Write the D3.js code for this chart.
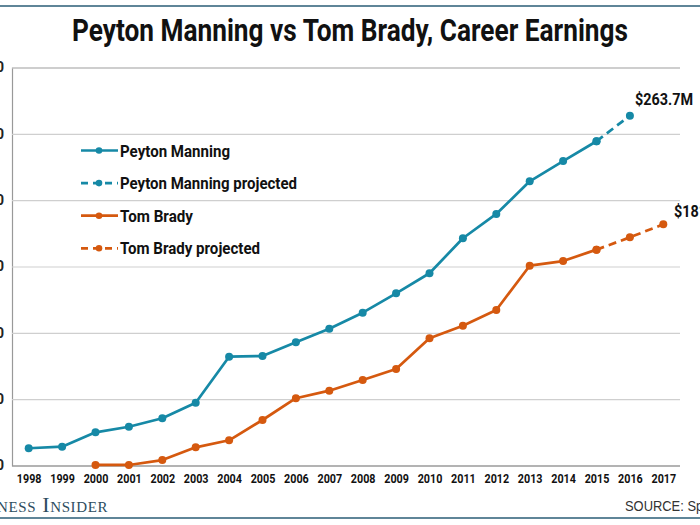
<!DOCTYPE html>
<html><head><meta charset="utf-8">
<script src="https://cdn.jsdelivr.net/npm/d3@7"></script>
<style>
body{margin:0;background:#fff;}
svg{display:block;}
.cond{font-family:"Roboto","Liberation Sans",sans-serif;}
</style></head>
<body><svg id="chart" width="700" height="525"></svg>
<script>
const years = d3.range(1998, 2018);
const yTicks = [0, 50, 100, 150, 200, 250, 300];
const yTickLabels = ["$0", "$50", "$100", "$150", "$200", "$250", "$300"];
const manningYears = [1998,1999,2000,2001,2002,2003,2004,2005,2006,2007,2008,2009,2010,2011,2012,2013,2014,2015];
const manningValues = [13.0,14.2,25.0,29.2,35.6,47.3,82.0,82.5,92.9,103.1,115.2,129.8,144.9,171.3,189.6,214.2,229.5,244.4];
const manningProjYears = [2015, 2016];
const manningProjValues = [244.4, 263.7];
const bradyYears = [2000,2001,2002,2003,2004,2005,2006,2007,2008,2009,2010,2011,2012,2013,2014,2015];
const bradyValues = [0.4,0.4,4.1,13.7,19.0,34.3,50.7,56.4,64.4,72.7,95.9,105.3,117.2,150.6,154.1,162.7];
const bradyProjYears = [2015, 2016, 2017];
const bradyProjValues = [162.7, 172.0, 181.8];
const seriesNames = ["Peyton Manning", "Peyton Manning projected", "Tom Brady", "Tom Brady projected"];
const endLabels = ["$263.7M", "$181.8M"];
const colors = {manning: "#1689a6", brady: "#d5590f"};

const svg = d3.select("#chart");
const pLeft = 12, pRight = 680, pTop = 67.5, pBottom = 465.5;
const x = d3.scalePoint().domain(years).range([pLeft, pRight]).padding(0.5);
const y = d3.scaleLinear().domain([0, 300]).range([pBottom, pTop]);

function condense(sel, k){
  sel.each(function(){
    const w = this.getComputedTextLength();
    d3.select(this).attr("textLength", w*k).attr("lengthAdjust","spacingAndGlyphs");
  });
}

// top & bottom rules
svg.append("rect").attr("x",0).attr("y",5).attr("width",700).attr("height",2).attr("fill","#5f8598");
svg.append("rect").attr("x",0).attr("y",517).attr("width",700).attr("height",2).attr("fill","#5f8598");

// title
svg.append("text").attr("class","cond").attr("x",350).attr("y",41).attr("text-anchor","middle")
  .attr("font-size",31).attr("font-weight","bold").attr("fill","#111")
  .attr("textLength",556).attr("lengthAdjust","spacingAndGlyphs")
  .text("Peyton Manning vs Tom Brady, Career Earnings");

// gridlines
const yAxis = d3.axisLeft(y).tickValues(yTicks).tickSize(-(pRight-pLeft)).tickPadding(8)
  .tickFormat((d,i)=>yTickLabels[i]);
const gy = svg.append("g").attr("transform",`translate(${pLeft},0)`).call(yAxis);
gy.select(".domain").attr("stroke","#999").attr("stroke-width",1.2);
gy.selectAll(".tick line").attr("stroke","#cfcfcf").attr("stroke-width",1.2);
gy.selectAll(".tick text").attr("class","cond").attr("font-size",14).attr("fill","#222").attr("font-weight","bold");
gy.selectAll(".tick").filter(d=>d===0).select("line").attr("stroke","#999");

// x axis
const xAxis = d3.axisBottom(x).tickSize(0).tickPadding(9);
const gx = svg.append("g").attr("transform",`translate(0,${pBottom})`).call(xAxis);
gx.select(".domain").remove();
gx.selectAll(".tick text").attr("class","cond").attr("font-size",12.5).attr("font-weight","bold").attr("fill","#111")
  .attr("font-family","Roboto");
condense(gx.selectAll(".tick text"), 0.86);

const line = d3.line().x(d=>x(d[0])).y(d=>y(d[1]));
function drawSeries(yrs, vals, color, dashed){
  const pts = yrs.map((yr,i)=>[yr, vals[i]]);
  svg.append("path").datum(pts).attr("d",line).attr("fill","none").attr("stroke",color)
    .attr("stroke-width",2.7).attr("stroke-linejoin","round")
    .attr("stroke-dasharray", dashed ? "8,5" : null);
  svg.append("g").selectAll("circle").data(pts).join("circle")
    .attr("cx",d=>x(d[0])).attr("cy",d=>y(d[1])).attr("r",4).attr("fill",color);
}
drawSeries(manningYears, manningValues, colors.manning, false);
drawSeries(manningProjYears, manningProjValues, colors.manning, true);
drawSeries(bradyYears, bradyValues, colors.brady, false);
drawSeries(bradyProjYears, bradyProjValues, colors.brady, true);

// end labels
svg.append("text").attr("class","cond").attr("x",635).attr("y",105)
  .attr("font-size",17).attr("font-weight","bold").attr("fill","#111")
  .attr("textLength",58).attr("lengthAdjust","spacingAndGlyphs").text(endLabels[0]);
svg.append("text").attr("class","cond").attr("x",674).attr("y",217)
  .attr("font-size",17).attr("font-weight","bold").attr("fill","#111")
  .attr("textLength",58).attr("lengthAdjust","spacingAndGlyphs").text(endLabels[1]);

// legend
const legColors = [colors.manning, colors.manning, colors.brady, colors.brady];
const legDash = [false, true, false, true];
const legWidths = [110, 177, 73, 140];
const leg = svg.append("g");
seriesNames.forEach((name,i)=>{
  const ly = 150.5 + i*32.6;
  leg.append("line").attr("x1",81).attr("x2",118).attr("y1",ly).attr("y2",ly)
    .attr("stroke",legColors[i]).attr("stroke-width",2.7)
    .attr("stroke-dasharray", legDash[i] ? "7,5" : null);
  leg.append("circle").attr("cx",99).attr("cy",ly).attr("r",3.3).attr("fill",legColors[i]);
  leg.append("text").attr("class","cond").attr("x",120).attr("y",ly+6)
    .attr("font-size",17).attr("font-weight","bold").attr("fill","#111")
    .attr("textLength",legWidths[i]).attr("lengthAdjust","spacingAndGlyphs").text(name);
});

// footer
svg.append("text").attr("x",108).attr("y",512).attr("text-anchor","end")
  .attr("font-family","'Liberation Serif','DejaVu Serif',serif").attr("font-size",22)
  .attr("font-variant","small-caps").attr("letter-spacing",0.6).attr("fill","#2d4d60")
  .text("Business Insider");
const src = svg.append("text").attr("x",625).attr("y",511)
  .attr("font-family","'Liberation Sans','Arial',sans-serif").attr("font-size",14.5).attr("fill","#333")
  .text("SOURCE: Spotrac");
condense(src, 0.89);
</script></body></html>
